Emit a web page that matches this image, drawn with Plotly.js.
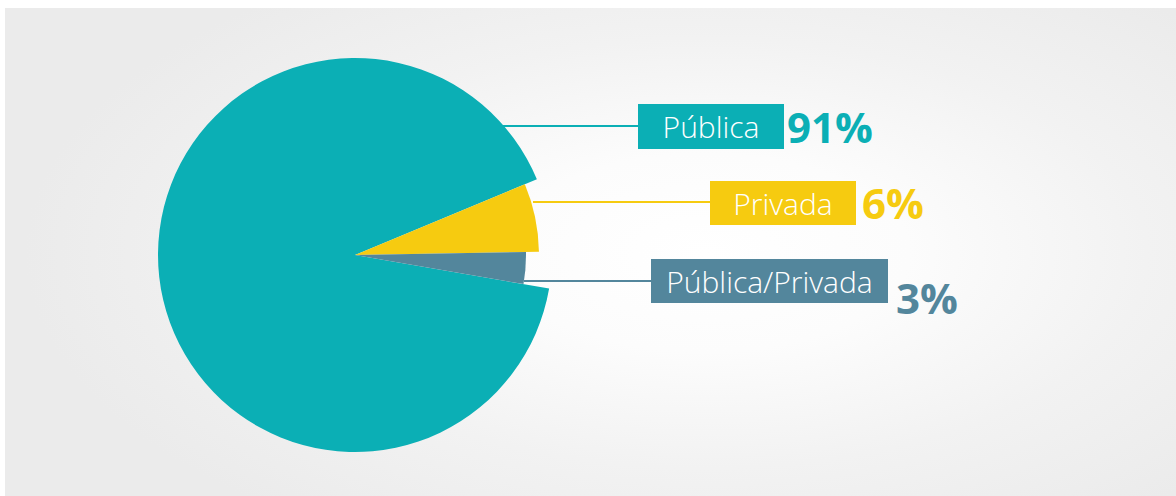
<!DOCTYPE html>
<html>
<head>
<meta charset="utf-8">
<script src="https://cdn.plot.ly/plotly-3.0.1.min.js"></script>
<style>
  html, body { margin:0; padding:0; background:#ffffff; }
  #bg { position:absolute; left:5px; top:8px; width:1171px; height:488px;
        background: radial-gradient(ellipse 680px 330px at 700px 245px, #ffffff 0%, #fcfcfc 30%, #f2f2f2 65%, #ebebeb 100%); }
  #chart { position:absolute; left:0; top:0; width:1176px; height:496px; }
</style>
</head>
<body>
<div id="bg"></div>
<div id="chart"></div>
<script>
// ---- data ----
const labels = ['Pública', 'Privada', 'Pública/Privada'];
const values = [91, 6, 3];

// ---- styles ----
const colors = ['#0bafb5', '#f6cb10', '#53869c'];
const radiiPx = [197, 184, 171];
const W = 1176, H = 496;
const cx = 355, cy = 255;

const traces = labels.map((lab, i) => {
  const r = radiiPx[i];
  return {
    type: 'pie',
    labels: labels,
    values: values,
    sort: false,
    direction: 'clockwise',
    rotation: 99.8,
    textinfo: 'none',
    hoverinfo: i === 0 ? 'label+percent' : 'skip',
    showlegend: false,
    marker: {
      colors: labels.map((_, j) => j === i ? colors[i] : 'rgba(0,0,0,0)'),
      line: { width: 0 }
    },
    domain: {
      x: [(cx - r) / W, (cx + r) / W],
      y: [(H - cy - r) / H, (H - cy + r) / H]
    }
  };
});

// label boxes: [x0, y0, x1, y1] in px
const boxes = [[638, 104, 784, 149], [710, 181, 856, 225], [651, 259, 888, 303]];
const lines = [[503, 126, 638], [533, 202, 710], [524, 281, 651]];
const pctPos = [[785, 126], [860, 202], [894, 297]];

const px = x => x / W;
const py = y => 1 - y / H;

const annotations = [];
const shapes = [];
labels.forEach((lab, i) => {
  const b = boxes[i];
  annotations.push({
    xref: 'paper', yref: 'paper',
    x: px((b[0] + b[2]) / 2), y: py((b[1] + b[3]) / 2),
    xanchor: 'center', yanchor: 'middle',
    text: lab, showarrow: false,
    bgcolor: colors[i], borderpad: 0, borderwidth: 0,
    width: b[2] - b[0], height: b[3] - b[1],
    align: 'center', valign: 'middle',
    font: { family: 'Open Sans, sans-serif', size: 30, color: '#ffffff', weight: 300 }
  });
  annotations.push({
    xref: 'paper', yref: 'paper',
    x: px(pctPos[i][0]), y: py(pctPos[i][1]),
    xanchor: 'left', yanchor: 'middle',
    text: values[i] + '%', showarrow: false,
    font: { family: 'Open Sans, sans-serif', size: 42, color: colors[i], weight: 700 }
  });
  const l = lines[i];
  shapes.push({
    type: 'line', xref: 'paper', yref: 'paper',
    x0: px(l[0]), x1: px(l[2]), y0: py(l[1]), y1: py(l[1]),
    line: { color: colors[i], width: 2 }
  });
});

const layout = {
  width: W, height: H,
  margin: { l: 0, r: 0, t: 0, b: 0 },
  paper_bgcolor: 'rgba(0,0,0,0)',
  plot_bgcolor: 'rgba(0,0,0,0)',
  showlegend: false,
  annotations: annotations,
  shapes: shapes
};

Plotly.newPlot('chart', traces, layout, { displayModeBar: false });
</script>
</body>
</html>
